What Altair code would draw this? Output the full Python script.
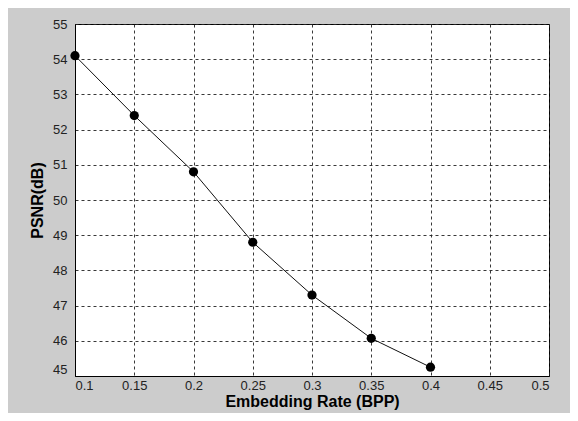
import altair as alt
import pandas as pd

rate = [0.1, 0.15, 0.2, 0.25, 0.3, 0.35, 0.4]
psnr = [54.1, 52.4, 50.8, 48.8, 47.3, 46.07, 45.25]
x_ticks = [0.1, 0.15, 0.2, 0.25, 0.3, 0.35, 0.4, 0.45, 0.5]
y_ticks = [45, 46, 47, 48, 49, 50, 51, 52, 53, 54, 55]

df = pd.DataFrame({"rate": rate, "psnr": psnr})

x = alt.X("rate:Q", scale=alt.Scale(domain=[0.1, 0.5], nice=False),
          axis=alt.Axis(values=x_ticks, format=".2~f", title="Embedding Rate (BPP)",
                        titleX=237, titleY=30, titleBaseline="alphabetic"))
y = alt.Y("psnr:Q", scale=alt.Scale(domain=[45, 55], nice=False, zero=False),
          axis=alt.Axis(values=y_ticks, title="PSNR(dB)",
                        titleX=-38, titleY=176, titleAngle=270,
                        titleAlign="center", titleBaseline="middle",
                        labelBaseline={"condition": {"test": "datum.value == 45", "value": "bottom"},
                                       "value": "middle"}))

line = alt.Chart(df).mark_line(color="#111", strokeWidth=1).encode(x=x, y=y)
pts = alt.Chart(df).mark_circle(color="black", opacity=1, size=85).encode(x=x, y=y)

chart = (line + pts).properties(
    width=474, height=352,
    autosize=alt.AutoSizeParams(type="none"),
    padding={"left": 67, "top": 16, "right": 21, "bottom": 37},
    background="#cccccc",
).configure_view(
    fill="white", stroke="black", strokeWidth=1
).configure_axis(
    domainColor="black", domainWidth=1,
    grid=True, gridColor="#222", gridDash=[3, 3], gridWidth=1, gridOpacity=0.9,
    ticks=False,
    labelFont="Liberation Sans", labelFontSize=13, labelColor="#222", labelPadding=3,
    titleFont="Liberation Sans", titleFontSize=16, titleFontWeight="bold", titleColor="black",
).configure_axisY(labelPadding=8)

chart.save("out.html", embed_options={"renderer": "svg", "actions": False})
